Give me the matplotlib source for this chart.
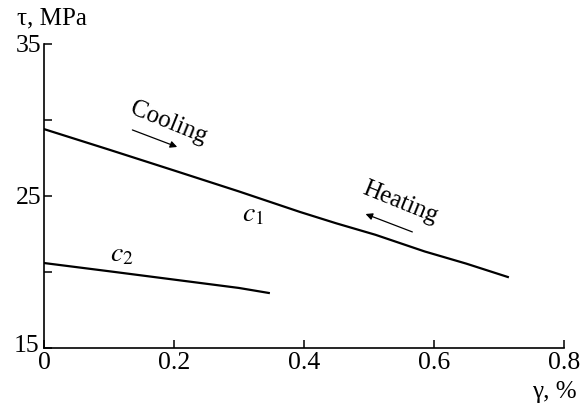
import matplotlib
matplotlib.use("Agg")
import matplotlib.pyplot as plt
from matplotlib.transforms import ScaledTranslation

plt.rcParams["font.family"] = ["Liberation Serif", "DejaVu Serif"]
plt.rcParams["mathtext.fontset"] = "stix"

# curve c1 (cooling / heating)
gamma_c1 = [0.0, 0.1, 0.2, 0.3, 0.394, 0.45, 0.51, 0.586, 0.65, 0.714]
tau_c1 = [29.4, 28.05, 26.68, 25.3, 23.95, 23.2, 22.45, 21.35, 20.55, 19.67]

# curve c2
gamma_c2 = [0.0, 0.1, 0.2, 0.3, 0.346]
tau_c2 = [20.59, 20.05, 19.5, 18.95, 18.62]

xticks = [0, 0.2, 0.4, 0.6, 0.8]
xticklabels = ["0", "0.2", "0.4", "0.6", "0.8"]
yticks = [15, 20, 25, 30, 35]
yticklabels = ["15", "", "25", "", "35"]

fig = plt.figure(figsize=(5.8, 4.11), dpi=100)
ax = fig.add_axes([0.0759, 0.1533, 0.896, 0.7397])

ax.plot(gamma_c1, tau_c1, color="black", lw=1.6)
ax.plot(gamma_c2, tau_c2, color="black", lw=1.6)

ax.set_xlim(0, 0.8)
ax.set_ylim(15, 35)
ax.set_xticks(xticks)
ax.set_xticklabels(xticklabels)
ax.set_yticks(yticks)
ax.set_yticklabels(yticklabels)
ax.tick_params(direction="in", length=6, width=1.1, labelsize=18.5, pad=3)
ax.tick_params(axis="y", pad=2)
for side in ("top", "right"):
    ax.spines[side].set_visible(False)
for side in ("left", "bottom"):
    ax.spines[side].set_linewidth(1.2)

# nudge the "15" label up so it clears the "0" below it
lab15 = ax.get_yticklabels()[0]
lab15.set_transform(lab15.get_transform()
                    + ScaledTranslation(-2 / 100, 4 / 100, fig.dpi_scale_trans))

# curve labels
ax.text(0.322, 23.75, "$c_1$", fontsize=20, ha="center", va="center")
ax.text(0.12, 21.12, "$c_2$", fontsize=20, ha="center", va="center")

# direction annotations
ax.text(0.192, 29.8, "Cooling", fontsize=18, rotation=-22,
        ha="center", va="center", rotation_mode="anchor")
ax.annotate("", xy=(0.209, 28.16), xytext=(0.132, 29.41),
            arrowprops=dict(arrowstyle="-|>", color="black", lw=0.9,
                            mutation_scale=10))
ax.text(0.548, 24.54, "Heating", fontsize=18, rotation=-22,
        ha="center", va="center", rotation_mode="anchor")
ax.annotate("", xy=(0.491, 23.88), xytext=(0.571, 22.57),
            arrowprops=dict(arrowstyle="-|>", color="black", lw=0.9,
                            mutation_scale=10))

# axis titles
fig.text(0.09, 0.956, "τ, MPa", fontsize=18, ha="center", va="center")
fig.text(0.955, 0.046, "γ, %", fontsize=18, ha="center", va="center")

fig.savefig("out.png", dpi=100)
